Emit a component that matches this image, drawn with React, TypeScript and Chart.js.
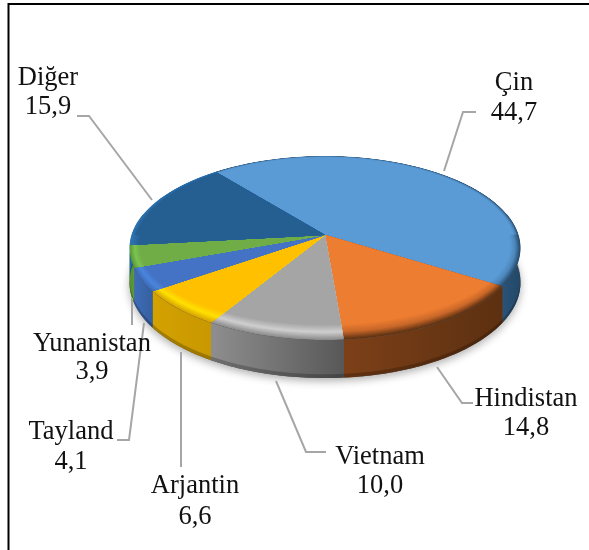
import React, { useEffect, useRef } from "react";
import { Chart, registerables } from "chart.js";

Chart.register(...registerables);

const categories = ["Çin", "Hindistan", "Vietnam", "Arjantin", "Tayland", "Yunanistan", "Diğer"];
const shares = [44.7, 14.8, 10.0, 6.6, 4.1, 3.9, 15.9];
const topColors = ["#5b9bd5", "#ed7d31", "#a5a5a5", "#ffc000", "#4472c4", "#70ad47", "#255e91"];
const rimMidColors = ["#4d86ba", "#c9682a", "#cfcfcf", "#ffe100", "#4b86dc", "#7cc452", "#2a6ba4"];
const rimEdgeColors = ["#264c6e", "#5f3212", "#8c8c8c", "#d8a400", "#3d6cbc", "#5a9a36", "#2f75b0"];
const wallLeftColors = ["#2a5378", "#7c4018", "#8e8e8e", "#d3a200", "#3f6cb8", "#4f9030", "#2a6ba4"];
const wallRightColors = ["#234766", "#5c3011", "#585858", "#c99700", "#35609f", "#5a9a36", "#2a6ba4"];

const labelCentres = [[514, 83], [526, 399], [380, 457], [195, 486], [71, 432], [92, 344], [48, 78]];
const labelSteps = [30, 29, 29, 31, 30, 28, 29];
const leaders = [
  [[444, 171], [463, 112], [476, 112]],
  [[437, 367], [462, 403], [473, 403]],
  [[276, 381], [306, 452], [326, 452]],
  [[181, 352], [181, 467]],
  [[144, 323], [129, 440], [117, 440]],
  [[132, 298], [132, 325]],
  [[152, 200], [89, 116], [77, 116]],
];

const APEX_X = 325;
const APEX_Y = 235;
const K = 0.1413;
const A = 90.2;
const B = 193.5;

function project(a: number, bevel: number, drop: number) {
  const u = Math.cos(a);
  const v = Math.sin(a);
  const w = 1 - K * v;
  const x = (B * u) / w;
  const y = (A * v) / w;
  const s = Math.sin(a);
  const wallDepth = 34 + 4 * v;
  return [
    APEX_X + x - bevel * (s > 0 ? 10 : 5) * u * (drop > 0 ? 0 : 1),
    APEX_Y + y - bevel * (s > 0 ? 15 * s : 1.5 * s) + drop * wallDepth,
  ];
}

function hex(c: string) {
  return [1, 3, 5].map((i) => parseInt(c.slice(i, i + 2), 16));
}

function mix(a: string, b: string, t: number) {
  const p = hex(a);
  const q = hex(b);
  return `rgb(${p.map((x, i) => Math.round(x + (q[i] - x) * t)).join(",")})`;
}

function rimColor(i: number, t: number) {
  if (t < 0.5) return mix(rimEdgeColors[i], rimMidColors[i], t / 0.5);
  return mix(rimMidColors[i], topColors[i], (t - 0.5) / 0.5);
}

function arcPath(a0: number, a1: number, bevel: number, drop: number) {
  const n = Math.max(2, Math.ceil(((a1 - a0) * 180) / Math.PI));
  const pts: number[][] = [];
  for (let k = 0; k <= n; k++) pts.push(project(a0 + ((a1 - a0) * k) / n, bevel, drop));
  return pts;
}

const pie3d = {
  id: "pie3d",
  beforeDraw(chart: any) {
    const { ctx } = chart;
    ctx.save();
    ctx.strokeStyle = "#000";
    ctx.lineWidth = 2;
    ctx.beginPath();
    ctx.moveTo(8.5, 550);
    ctx.lineTo(8.5, 4);
    ctx.lineTo(589, 4);
    ctx.stroke();
    ctx.restore();
  },
  beforeDatasetDraw(chart: any, args: any) {
    const { ctx } = chart;
    const arcs = args.meta.data;
    const lo = (-14 * Math.PI) / 180;
    const hi = (194 * Math.PI) / 180;

    ctx.save();
    ctx.shadowColor = "rgba(0,0,0,0.32)";
    ctx.shadowBlur = 9;
    ctx.shadowOffsetY = 3;
    ctx.fillStyle = "#555";
    ctx.beginPath();
    arcPath(lo, hi, 0, 1).forEach(([x, y], k) => (k ? ctx.lineTo(x, y) : ctx.moveTo(x, y)));
    ctx.closePath();
    ctx.fill();
    ctx.restore();

    arcs.forEach((arc: any, i: number) => {
      const a0 = Math.max(arc.startAngle, lo);
      const a1 = Math.min(arc.endAngle, hi);
      if (a1 <= a0) return;
      const upper = arcPath(a0, a1, 0, 0);
      const lower = arcPath(a0, a1, 0, 1);
      const xs = upper.concat(lower).map((p) => p[0]);
      const g = ctx.createLinearGradient(Math.min(...xs), 0, Math.max(...xs), 0);
      g.addColorStop(0, wallLeftColors[i]);
      g.addColorStop(1, wallRightColors[i]);
      ctx.beginPath();
      upper.forEach(([x, y], k) => (k ? ctx.lineTo(x, y) : ctx.moveTo(x, y)));
      lower.reverse().forEach(([x, y]) => ctx.lineTo(x, y));
      ctx.closePath();
      ctx.fillStyle = g;
      ctx.fill();
      const inner = arcPath(a0, a1, 0, 0.9);
      const bottom = arcPath(a0, a1, 0, 1);
      ctx.beginPath();
      inner.forEach(([x, y], k) => (k ? ctx.lineTo(x, y) : ctx.moveTo(x, y)));
      bottom.reverse().forEach(([x, y]) => ctx.lineTo(x, y));
      ctx.closePath();
      ctx.fillStyle = "rgba(0,0,0,0.22)";
      ctx.fill();
    });

    const levels = 14;
    const spill = 0.25;
    arcs.forEach((arc: any, i: number) => {
      ctx.save();
      ctx.beginPath();
      ctx.moveTo(APEX_X, APEX_Y);
      arcPath(arc.startAngle, arc.endAngle, 0, 0).forEach(([x, y]) => ctx.lineTo(x, y));
      ctx.closePath();
      ctx.clip();
      for (let l = 0; l <= levels; l++) {
        const t = l / levels;
        ctx.beginPath();
        ctx.moveTo(APEX_X, APEX_Y);
        arcPath(arc.startAngle - spill, arc.endAngle + spill, t, 0).forEach(([x, y]) => ctx.lineTo(x, y));
        ctx.closePath();
        ctx.fillStyle = rimColor(i, t);
        ctx.fill();
      }
      ctx.restore();
    });
    return false;
  },
  afterDatasetsDraw(chart: any) {
    const { ctx } = chart;
    ctx.save();
    ctx.strokeStyle = "#a6a6a6";
    ctx.lineWidth = 2;
    leaders.forEach((line) => {
      ctx.beginPath();
      line.forEach(([x, y], k) => (k ? ctx.lineTo(x, y) : ctx.moveTo(x, y)));
      ctx.stroke();
    });
    ctx.fillStyle = "#111";
    ctx.font = '26.5px "Liberation Serif"';
    ctx.textAlign = "center";
    ctx.textBaseline = "middle";
    categories.forEach((name, i) => {
      const [x, y] = labelCentres[i];
      ctx.fillText(name, x, y);
      ctx.fillText(shares[i].toFixed(1).replace(".", ","), x, y + labelSteps[i]);
    });
    ctx.restore();
  },
};

export default function App() {
  const ref = useRef<HTMLCanvasElement>(null);
  useEffect(() => {
    const chart = new Chart(ref.current!, {
      type: "pie",
      data: {
        labels: categories,
        datasets: [{ data: shares, backgroundColor: topColors, borderWidth: 0 }],
      },
      options: {
        animation: false,
        responsive: false,
        rotation: -39,
        plugins: { legend: { display: false }, tooltip: { enabled: false } },
      },
      plugins: [pie3d],
    } as any);
    return () => chart.destroy();
  }, []);
  return (
    <canvas
      ref={ref}
      width={589}
      height={550}
      style={{ position: "absolute", left: 0, top: 0, width: 589, height: 550, background: "#fff" }}
    />
  );
}
